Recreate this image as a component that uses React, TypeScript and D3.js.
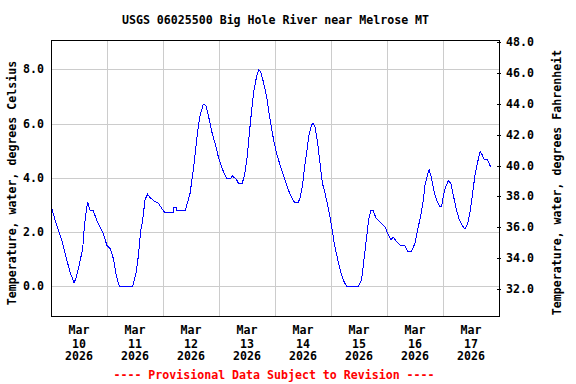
import React, { useEffect, useRef } from "react";
import * as d3 from "d3";

// hours since Mar 10 2026 00:00 and water temperature, deg C
const hours = [
  0, 2.4, 4.6, 6.4, 8.1, 9.9, 11, 12.4, 13.6, 14.3, 15, 15.7, 16.7, 18.1, 19.6,
  21, 22.4, 23.9, 25.3, 26.7, 28.1, 29.3, 35, 36.4, 37.4, 38.4, 39.3, 40.3, 41.4,
  42.4, 44.6, 46, 47.4, 48.9, 52.4, 52.6, 53.6, 53.8, 57.6, 59.6, 61, 62.1, 63.1,
  64.1, 65.3, 66.3, 67.4, 68.9, 70.3, 71.7, 73.3, 74.6, 75.3, 77.1, 77.7, 79.6,
  80.3, 82, 83.1, 84.1, 85, 86, 87, 88.1, 89, 89.9, 91, 92.4, 93.9, 95.3, 96.5,
  97.9, 98.9, 100.3, 101.7, 103.1, 104.3, 106, 106.7, 107.7, 108.9, 109.9, 110.7,
  111.7, 112.4, 113.1, 114.3, 115.3, 116.3, 117.1, 118.1, 119.3, 120.3, 121.4,
  122.9, 124.3, 125.6, 126.7, 131.7, 133.1, 134.1, 135.3, 136.1, 137.1, 138.1,
  139.3, 141, 143.1, 144.6, 145.7, 146.7, 148.1, 149.6, 151.7, 152.9, 154.6, 156,
  157.1, 158.4, 159.6, 160.3, 161.3, 162.1, 163.1, 164.3, 165.6, 166.7, 167.4,
  168.1, 169.1, 170.3, 171.4, 172.4, 173.6, 175, 176.4, 177.4, 178.6, 179.6,
  180.7, 181.7, 182.7, 183.9, 184.6, 185.6, 187, 187.7, 188.4
];
const tempC = [
  2.96, 2.26, 1.71, 1.09, 0.54, 0.12, 0.38, 0.91, 1.4, 2.2, 2.69, 3.1, 2.81, 2.79,
  2.44, 2.2, 1.95, 1.52, 1.4, 1.03, 0.35, 0.0, 0.0, 0.48, 1.09, 2.01, 2.44, 3.2,
  3.39, 3.27, 3.12, 3.06, 2.88, 2.71, 2.71, 2.91, 2.91, 2.81, 2.81, 3.43, 4.29,
  5.15, 5.88, 6.38, 6.71, 6.68, 6.32, 5.7, 5.27, 4.78, 4.35, 4.1, 3.98, 3.98, 4.08,
  3.92, 3.8, 3.8, 4.17, 4.78, 5.64, 6.5, 7.24, 7.73, 7.97, 7.91, 7.54, 6.99, 6.13,
  5.45, 4.95, 4.55, 4.29, 3.92, 3.55, 3.28, 3.1, 3.1, 3.24, 3.67, 4.53, 5.15, 5.64,
  5.95, 6.01, 5.88, 5.27, 4.53, 3.8, 3.55, 3.18, 2.69, 2.2, 1.59, 0.97, 0.48, 0.17,
  0.0, 0.0, 0.23, 0.97, 1.83, 2.44, 2.81, 2.79, 2.51, 2.38, 2.2, 1.89, 1.71, 1.81,
  1.64, 1.52, 1.49, 1.3, 1.3, 1.59, 2.08, 2.57, 3.18, 3.73, 4.1, 4.29, 3.98, 3.43,
  3.12, 2.93, 2.93, 3.3, 3.67, 3.89, 3.8, 3.37, 2.88, 2.44, 2.22, 2.11, 2.32, 2.75,
  3.43, 4.1, 4.53, 4.96, 4.88, 4.68, 4.68, 4.56, 4.39
];

const dayLabels = ["10", "11", "12", "13", "14", "15", "16", "17"];
const celsiusTicks = [0, 2, 4, 6, 8];
const fahrenheitTicks = [32, 34, 36, 38, 40, 42, 44, 46, 48];

const title = "USGS 06025500 Big Hole River near Melrose MT";
const leftTitle = "Temperature, water, degrees Celsius";
const rightTitle = "Temperature, water, degrees Fahrenheit";
const footer = "---- Provisional Data Subject to Revision ----";

const App = () => {
  const visual = useRef(null);

  useEffect(() => {
    const width = 576;
    const height = 384;
    const left = 51;
    const right = 499;
    const top = 40;
    const bottom = 316;
    const font = "'DejaVu Sans Mono', monospace";

    const start = new Date(2026, 2, 10);
    const end = new Date(2026, 2, 18);
    const xScale = d3.scaleTime().domain([start, end]).range([left, right]);
    const yScale = d3.scaleLinear().domain([0, 8]).range([286.3, 69.3]);
    const fScale = d3.scaleLinear().domain([32, 48]).range([289, 42]);

    const svg = d3.select(visual.current).attr("width", width).attr("height", height);
    svg.selectAll("*").remove();

    svg.append("rect").attr("width", width).attr("height", height).attr("fill", "#fff");

    // gridlines
    const days = d3.timeDay.range(d3.timeDay.offset(start, 1), end);
    svg.append("g")
      .selectAll("line")
      .data(days)
      .join("line")
      .attr("x1", d => Math.round(xScale(d)) + 0.5)
      .attr("x2", d => Math.round(xScale(d)) + 0.5)
      .attr("y1", top)
      .attr("y2", bottom)
      .attr("stroke", "#cccccc")
      .attr("shape-rendering", "crispEdges");

    svg.append("g")
      .selectAll("line")
      .data(celsiusTicks)
      .join("line")
      .attr("x1", left)
      .attr("x2", right)
      .attr("y1", d => Math.round(yScale(d)) + 0.5)
      .attr("y2", d => Math.round(yScale(d)) + 0.5)
      .attr("stroke", "#cccccc")
      .attr("shape-rendering", "crispEdges");

    // data line
    const points = hours.map((h, i) => [d3.timeMinute.offset(start, Math.round(h * 60)), tempC[i]]);
    const line = d3.line().x(d => xScale(d[0])).y(d => yScale(d[1]));
    svg.append("path")
      .datum(points)
      .attr("d", line)
      .attr("fill", "none")
      .attr("stroke", "#0000ff")
      .attr("stroke-width", 1)
      .attr("shape-rendering", "crispEdges");

    // frame
    svg.append("rect")
      .attr("x", left + 0.5)
      .attr("y", top + 0.5)
      .attr("width", right - left)
      .attr("height", bottom - top)
      .attr("fill", "none")
      .attr("stroke", "#000")
      .attr("shape-rendering", "crispEdges");

    const text = (g) => g.attr("font-family", font).attr("font-weight", "bold").attr("font-size", 11.6);

    // left tick labels
    svg.append("g")
      .call(text)
      .selectAll("text")
      .data(celsiusTicks)
      .join("text")
      .attr("x", 44)
      .attr("y", d => yScale(d) + 4)
      .attr("text-anchor", "end")
      .text(d => d.toFixed(1));

    // right ticks and labels
    svg.append("g")
      .selectAll("line")
      .data(fahrenheitTicks)
      .join("line")
      .attr("x1", right - 2)
      .attr("x2", right + 2)
      .attr("y1", d => Math.round(fScale(d)) + 0.5)
      .attr("y2", d => Math.round(fScale(d)) + 0.5)
      .attr("stroke", "#000")
      .attr("shape-rendering", "crispEdges");

    svg.append("g")
      .call(text)
      .selectAll("text")
      .data(fahrenheitTicks)
      .join("text")
      .attr("x", 506)
      .attr("y", d => fScale(d) + 4)
      .text(d => d.toFixed(1));

    // x labels at noon of each day
    const xl = svg.append("g").call(text).attr("text-anchor", "middle");
    dayLabels.forEach((lab, i) => {
      const x = xScale(d3.timeHour.offset(start, i * 24 + 12));
      xl.append("text").attr("x", x).attr("y", 334).text("Mar");
      xl.append("text").attr("x", x).attr("y", 347.5).text(lab);
      xl.append("text").attr("x", x).attr("y", 360).text("2026");
    });

    svg.append("text").call(text)
      .attr("x", 275.5).attr("y", 24).attr("text-anchor", "middle").text(title);

    svg.append("text").call(text)
      .attr("transform", "translate(15.5,183) rotate(-90)")
      .attr("text-anchor", "middle").text(leftTitle);

    svg.append("text").call(text)
      .attr("transform", "translate(561,182.5) rotate(-90)")
      .attr("text-anchor", "middle").text(rightTitle);

    svg.append("text").call(text)
      .attr("x", 274).attr("y", 379).attr("text-anchor", "middle")
      .attr("fill", "#ff0000").text(footer);
  }, []);

  return <svg ref={visual} style={{ position: "absolute", left: 0, top: 0 }} />;
};

export default App;
